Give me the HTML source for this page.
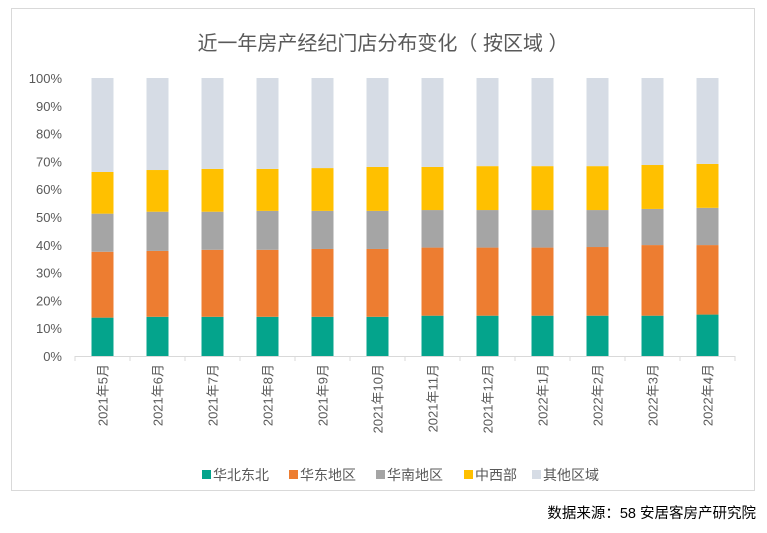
<!DOCTYPE html>
<html><head><meta charset="utf-8"><style>
body{margin:0;width:767px;height:528px;background:#fff;font-family:"Liberation Sans","Noto Sans CJK SC",sans-serif;overflow:hidden}
</style></head><body>
<svg width="767" height="528" xmlns="http://www.w3.org/2000/svg">
<rect x="11.5" y="8.5" width="743" height="482" fill="#fff" stroke="#d9d9d9"/>
<text x="383" y="50" text-anchor="middle" font-size="20" fill="#595959" font-family="Liberation Sans, Noto Sans CJK SC, sans-serif">近一年房产经纪门店分布变化（ 按区域 ）</text>
<g id="plot"></g>
<g id="legend"></g>
<text x="756" y="518" text-anchor="end" font-size="14.5" fill="#000" font-family="Liberation Sans, Noto Sans CJK SC, sans-serif">数据来源：58 安居客房产研究院</text>
</svg>
<script>
const categories=["2021年5月","2021年6月","2021年7月","2021年8月","2021年9月","2021年10月","2021年11月","2021年12月","2022年1月","2022年2月","2022年3月","2022年4月"];
const seriesNames=["华北东北","华东地区","华南地区","中西部","其他区域"];
const north=[13.8,14.1,14.1,14.1,14.1,14.1,14.5,14.5,14.5,14.5,14.5,14.9];
const east=[23.7,23.7,24.1,24.1,24.4,24.4,24.5,24.5,24.5,24.7,25.4,25.0];
const south=[13.7,14.1,13.7,14.0,13.7,13.7,13.5,13.5,13.5,13.3,13.0,13.4];
const central=[15.0,15.0,15.4,15.1,15.4,15.8,15.5,15.8,15.8,15.8,15.8,15.8];
const other=[33.8,33.1,32.7,32.7,32.4,32.0,32.0,31.7,31.7,31.7,31.3,30.9];
const yTicks=[0,10,20,30,40,50,60,70,80,90,100];
const colors=["#04a48c","#ed7d31","#a5a5a5","#ffc000","#d6dce5"];
const series=[north,east,south,central,other];
const NS="http://www.w3.org/2000/svg";
const x0=75,x1=735,yB=356,yT=78;
const band=(x1-x0)/categories.length;
const xC=i=>x0+band*(i+0.5);
const yS=v=>yB-(v/100)*(yB-yT);
function mk(t,a,p){const e=document.createElementNS(NS,t);for(const k in a)e.setAttribute(k,a[k]);p.appendChild(e);return e;}
const plot=document.getElementById('plot');
yTicks.forEach(v=>{
 const t=mk('text',{x:62,y:yS(v)+5,'text-anchor':'end','font-size':13,fill:'#595959'},plot);
 t.textContent=v+'%';
 
 
});
categories.forEach((c,i)=>{
 let acc=0;
 series.forEach((s,k)=>{
  const v=s[i];
  const r=mk('rect',{x:xC(i)-11,y:yS(acc+v),width:22,height:yS(acc)-yS(acc+v),fill:colors[k]},plot);
  
  
  acc+=v;
 });
 const t=mk('text',{transform:`translate(${xC(i)+5},${yB+8}) rotate(-90)`,'text-anchor':'end','font-size':13,fill:'#595959'},plot);
 t.textContent=c;
 
 
});
const ax=mk('line',{x1:x0,y1:yB+0.5,x2:x1,y2:yB+0.5,stroke:'#d9d9d9'},plot);


for(let i=0;i<=categories.length;i++){
 const tk=mk('line',{x1:x0+band*i,y1:yB,x2:x0+band*i,y2:yB+5,stroke:'#d9d9d9'},plot);
 
 
}
const lg=document.getElementById('legend');
const lx=[202,289,376,464,532];
seriesNames.forEach((n,k)=>{
 const g=mk('g',{},lg);
 
 
 mk('rect',{x:lx[k],y:470,width:9,height:9,fill:colors[k]},g);
 const t=mk('text',{x:lx[k]+11,y:480,'font-size':14,fill:'#595959'},g);
 t.textContent=n;
});
</script>
</body></html>
